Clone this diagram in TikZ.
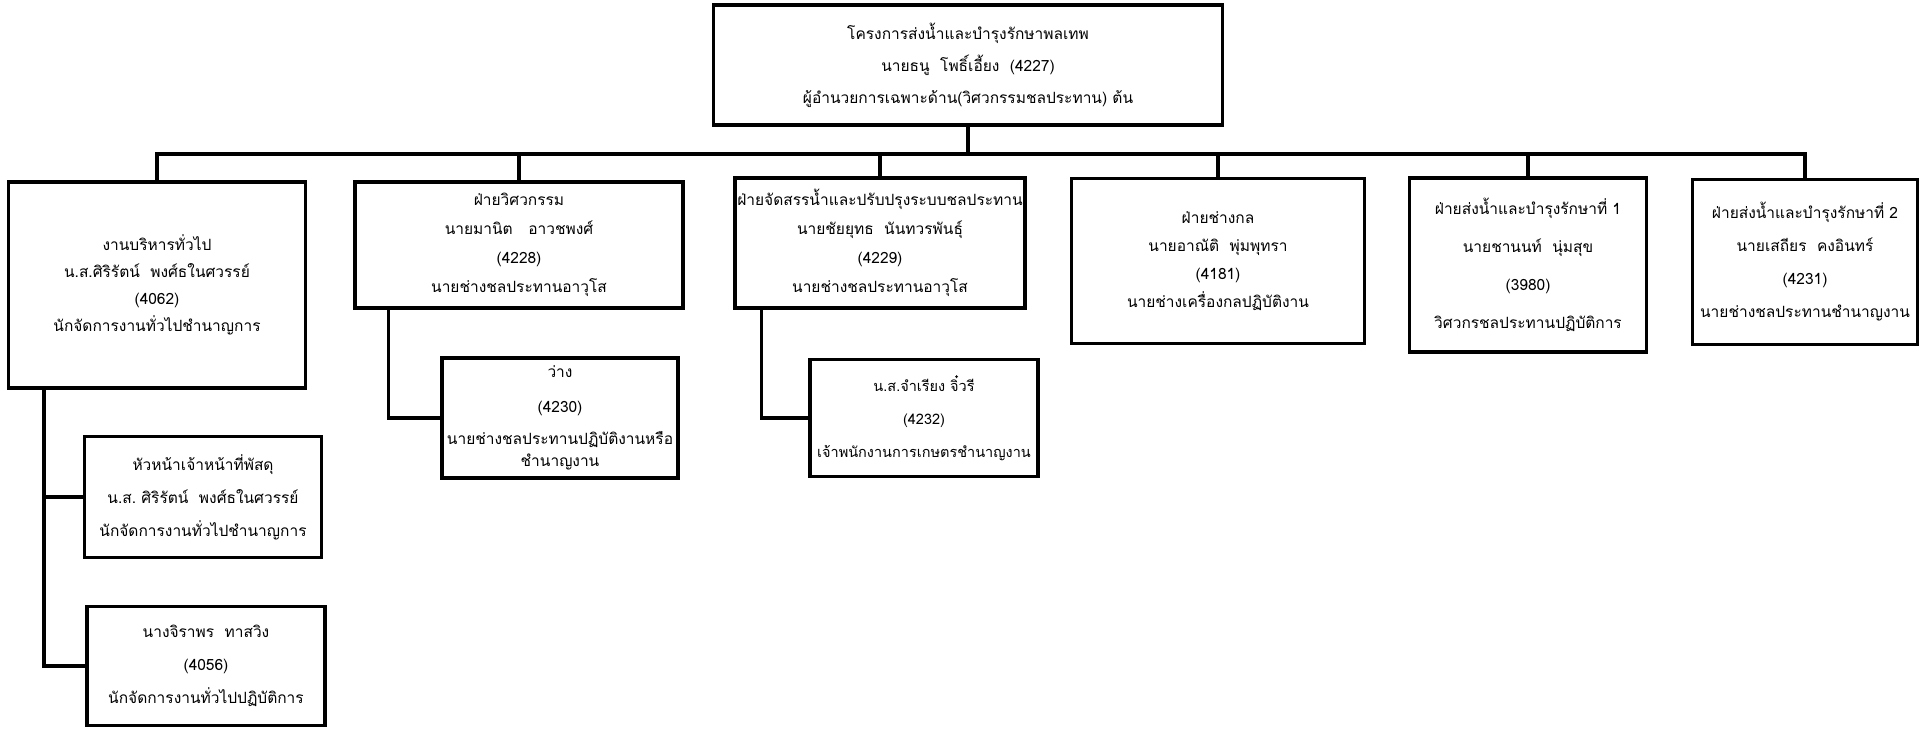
\documentclass[tikz,border=0pt]{standalone}
\usepackage{fontspec}
\newfontfamily\thaifont[Script=Thai]{Loma}
\usetikzlibrary{calc}

\begin{document}
\begin{tikzpicture}[
    x=1pt, y=-1pt,
    unit/.style={rectangle, draw, line width=3.5pt, align=center, inner sep=0pt, font=\thaifont\fontsize{15.5}{30}\selectfont},
    leading/.style={font=\thaifont\fontsize{15.5}{#1}\selectfont},
    link/.style={line width=3.5pt}
]
\useasboundingbox (0,0) rectangle (1921,728);
% head of the project
\node[unit, leading=32, minimum width=509, minimum height=120] (top) at (968,65)
  {โครงการส่งน้ำและบำรุงรักษาพลเทพ\\ นายธนู~~โพธิ์เอี้ยง~~(4227)\\ ผู้อำนวยการเฉพาะด้าน(วิศวกรรมชลประทาน) ต้น};
% sections
\node[unit, leading=27, minimum width=297, minimum height=206] (adm) at (157,285)
  {งานบริหารทั่วไป\\ น.ส.ศิริรัตน์~~พงศ์ธในศวรรย์\\ (4062)\\ นักจัดการงานทั่วไปชำนาญการ};
\node[unit, leading=29, minimum width=328, minimum height=126] (eng) at (519,245)
  {ฝ่ายวิศวกรรม\\ นายมานิต~~~อาวชพงศ์\\ (4228)\\ นายช่างชลประทานอาวุโส};
\node[unit, leading=29, minimum width=290, minimum height=130] (wat) at (880,243)
  {ฝ่ายจัดสรรน้ำและปรับปรุงระบบชลประทาน\\ นายชัยยุทธ~~นันทวรพันธุ์\\ (4229)\\ นายช่างชลประทานอาวุโส};
\node[unit, leading=28, minimum width=293, minimum height=165] (mech) at (1218,261)
  {ฝ่ายช่างกล\\ นายอาณัติ~~พุ่มพุทรา\\ (4181)\\ นายช่างเครื่องกลปฏิบัติงาน};
\node[unit, leading=38, minimum width=237, minimum height=174] (irr1) at (1528,265)
  {ฝ่ายส่งน้ำและบำรุงรักษาที่ 1\\ นายชานนท์~~นุ่มสุข\\ (3980)\\ วิศวกรชลประทานปฏิบัติการ};
\node[unit, leading=33, minimum width=225, minimum height=165] (irr2) at (1805,262)
  {ฝ่ายส่งน้ำและบำรุงรักษาที่ 2\\ นายเสถียร~~คงอินทร์\\ (4231)\\ นายช่างชลประทานชำนาญงาน};
% staff under the sections
\node[unit, leading=33, minimum width=237, minimum height=121] (sup) at (203,497)
  {หัวหน้าเจ้าหน้าที่พัสดุ\\ น.ส.~ศิริรัตน์~~พงศ์ธในศวรรย์\\ นักจัดการงานทั่วไปชำนาญการ};
\node[unit, leading=33, minimum width=238, minimum height=119] (jir) at (206,666)
  {นางจิราพร~~ทาสวิง\\ (4056)\\ นักจัดการงานทั่วไปปฏิบัติการ};
\node[unit, leading=22, minimum width=236, minimum height=120] (vac) at (560,418)
  {ว่าง\\[13pt] (4230)\\[10pt] นายช่างชลประทานปฏิบัติงานหรือ\\ ชำนาญงาน};
\node[unit, font=\thaifont\fontsize{14.5}{33}\selectfont, minimum width=228, minimum height=117] (jam) at (924,418)
  {น.ส.จำเรียง จิ๋วรี\\ (4232)\\ เจ้าพนักงานการเกษตรชำนาญงาน};
% connectors
\coordinate (bus) at ($(top.south)+(0,27)$);
\coordinate (admtrunk) at ($(adm.south west)+(37,0)$);
\coordinate (engtrunk) at ($(eng.south west)+(35,0)$);
\coordinate (wattrunk) at ($(wat.south west)+(28,0)$);
\draw[link] (top.south) -- (bus);
\foreach \n in {adm,eng,wat,mech,irr1,irr2}
  \draw[link] (\n.north) |- (bus);
\draw[link] (admtrunk) |- (sup.west);
\draw[link] (admtrunk) |- (jir.west);
\draw[link] (engtrunk) |- (vac.west);
\draw[link] (wattrunk) |- (jam.west);
\end{tikzpicture}
\end{document}
